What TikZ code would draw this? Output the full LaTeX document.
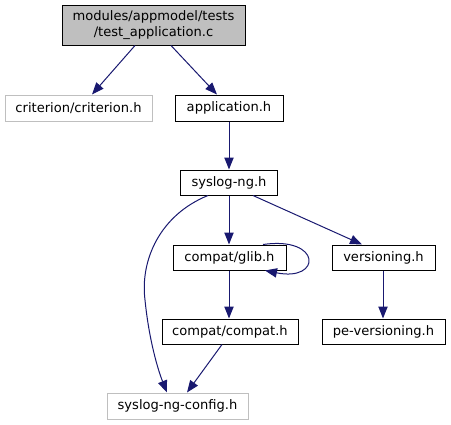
\documentclass[tikz,border=0pt]{standalone}
\usepackage{fontspec}
\setmainfont{DejaVu Sans}
\usetikzlibrary{arrows.meta}
\definecolor{edgec}{HTML}{191970}
\definecolor{grayb}{HTML}{BFBFBF}
\begin{document}
\begin{tikzpicture}[x=0.75pt,y=-0.75pt,
  box/.style={draw=black,fill=white,line width=0.75pt,inner sep=0pt,font=\fontsize{9.8pt}{11.7pt}\selectfont,align=center},
  ghost/.style={box,draw=grayb},
  edge/.style={draw=edgec,line width=0.75pt,-{Triangle[length=9pt,width=7pt]}}]
\useasboundingbox (0,0) rectangle (451,425);
\node[box,fill=grayb,minimum width=183*0.75pt,minimum height=40*0.75pt] (top) at (153.5,25) {modules/appmodel/tests\\/test\_application.c};
\node[ghost,minimum width=147*0.75pt,minimum height=26*0.75pt] (crit) at (78.5,108) {criterion/criterion.h};
\node[box,minimum width=108*0.75pt,minimum height=26*0.75pt] (app) at (229,108) {application.h};
\node[box,minimum width=97*0.75pt,minimum height=25*0.75pt] (sys) at (229,182.5) {syslog-ng.h};
\node[box,minimum width=113*0.75pt,minimum height=25*0.75pt] (glib) at (229.5,257.5) {compat/glib.h};
\node[box,minimum width=103*0.75pt,minimum height=25*0.75pt] (vers) at (383.5,257.5) {versioning.h};
\node[box,minimum width=136*0.75pt,minimum height=25*0.75pt] (compat) at (230,331.5) {compat/compat.h};
\node[box,minimum width=123*0.75pt,minimum height=25*0.75pt] (pe) at (383.5,331.5) {pe-versioning.h};
\node[ghost,minimum width=141*0.75pt,minimum height=26*0.75pt] (conf) at (177.5,406) {syslog-ng-config.h};
\draw[edge] (top.south -| 135,0) -- (crit.north -| 92,0);
\draw[edge] (top.south -| 171,0) -- (app.north -| 217,0);
\draw[edge] (app.south -| 229,0) -- (sys.north -| 229,0);
\draw[edge] (sys.south -| 229,0) -- (glib.north -| 229,0);
\draw[edge] (sys.south -| 253,0) -- (vers.north -| 362,0);
\draw[edge] (sys.south -| 208,0) .. controls (160,215) and (140,260) .. (145,300) .. controls (149,340) and (158,370) .. (conf.north -| 167,0);
\draw[edge] (glib.north -| 263,0) .. controls (322,236) and (322,282) .. (glib.south -| 265,0);
\draw[edge] (glib.south -| 229,0) -- (compat.north -| 229,0);
\draw[edge] (compat.south -| 222,0) -- (conf.north -| 187,0);
\draw[edge] (vers.south -| 383,0) -- (pe.north -| 383,0);
\end{tikzpicture}
\end{document}
